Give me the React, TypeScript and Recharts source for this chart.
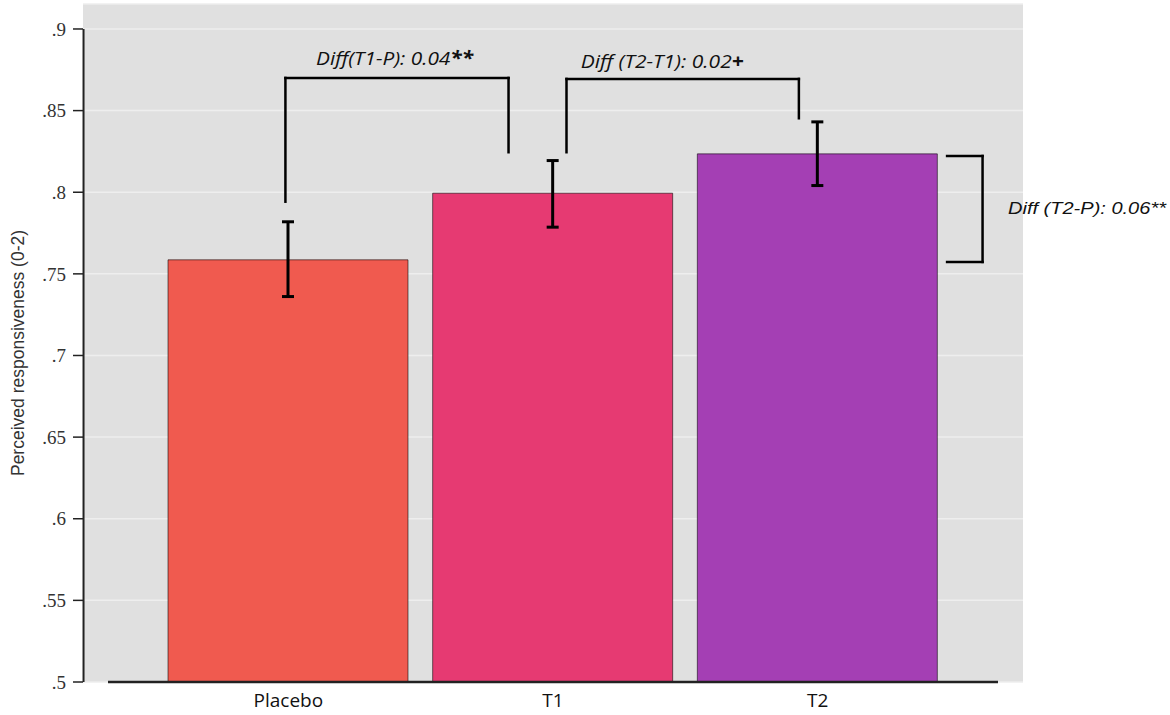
import React from 'react';
import {
    ComposedChart, Bar, Cell, ErrorBar, XAxis, YAxis, CartesianGrid,
    ReferenceLine, ReferenceDot,
} from 'recharts';

// values
const categories = ['Placebo', 'T1', 'T2'];
const means = [0.7586, 0.7994, 0.8235];
const ciLow = [0.7361, 0.7786, 0.8041];
const ciHigh = [0.7819, 0.8194, 0.8431];
const barColors = ['#F05A4F', '#E63A72', '#A43FB4'];
const yTicks = [0.5, 0.55, 0.6, 0.65, 0.7, 0.75, 0.8, 0.85, 0.9];

// brackets, in (position, value) units; categories sit at 1, 2, 3
const brackets = [
    [[0.989, 0.7942], [0.989, 0.87], [1.832, 0.87], [1.832, 0.8245]],
    [[2.051, 0.8245], [2.051, 0.8694], [2.929, 0.8694], [2.929, 0.8453]],
    [[3.489, 0.8222], [3.623, 0.8222], [3.623, 0.7573], [3.489, 0.7573]],
];

const notes = [
    { x: 1.1045, y: 0.878, text: 'Diff(T1-P): 0.04', mark: '**', bold: true },
    { x: 2.1047, y: 0.8764, text: 'Diff (T2-T1): 0.02', mark: '+', bold: true },
    { x: 3.7191, y: 0.7867, text: 'Diff (T2-P): 0.06', mark: '**', bold: false },
];
const noteFonts = [
    { fontFamily: 'Open Sans', fontSize: 19, len: 157 },
    { fontFamily: 'Open Sans', fontSize: 19, len: 163 },
    { fontFamily: 'Liberation Sans', fontSize: 17, len: 158 },
];

const data = categories.map((name, i) => ({
    name,
    pos: i + 1,
    value: means[i],
    err: [means[i] - ciLow[i], ciHigh[i] - means[i]],
}));

const PAD = 73;
const NUM_DOMAIN: [number, number] = [0.2242, 3.7758];

const fmtTick = (v: number) => String(Number(v.toFixed(2))).replace(/^0/, '');

const YLabel = (props: any) => {
    const vb = props.viewBox || {};
    const cy = vb.y + vb.height / 2 + 10;
    return (
        <text x={24} y={cy} transform={`rotate(-90, 24, ${cy})`} textAnchor="middle"
            fontFamily="Liberation Sans" fontSize={17.5} fill="#333">
            Perceived responsiveness (0-2)
        </text>
    );
};

export default function App() {
    return (
        <div style={{ width: 1170, height: 715 }}>
            <style>{'body{margin:0}'}</style>
            <ComposedChart width={1170} height={715} data={data}
                margin={{ top: 4, right: 147, bottom: 0, left: 0 }}>
                <CartesianGrid vertical={false} fill="#E0E0E0" stroke="#EEEEEE" strokeWidth={1.5} />
                <XAxis xAxisId="cat" dataKey="name" type="category" height={33}
                    padding={{ left: PAD, right: PAD }}
                    axisLine={false} tickLine={false} tickMargin={6}
                    tick={{ fill: '#111', fontSize: 19, fontFamily: 'Open Sans' }} />
                <XAxis xAxisId="n" dataKey="pos" type="number" domain={NUM_DOMAIN}
                    allowDataOverflow hide />
                <YAxis width={83} domain={[0.5, 0.9153]} ticks={yTicks} allowDataOverflow
                    tickFormatter={fmtTick} axisLine={false}
                    tickLine={{ stroke: '#222', strokeWidth: 1.5 }} tickSize={10} tickMargin={7}
                    tick={{ fill: '#333', fontSize: 19, fontFamily: 'Liberation Sans Narrow' }}
                    label={<YLabel />} />
                <Bar xAxisId="cat" dataKey="value" barSize={240} isAnimationActive={false}
                    stroke="rgba(0,0,0,0.55)" strokeWidth={1}>
                    {data.map((d, i) => (
                        <Cell key={d.name} fill={barColors[i]} />
                    ))}
                    <ErrorBar dataKey="err" direction="y" width={6} strokeWidth={3} stroke="#000"
                        isAnimationActive={false} />
                </Bar>
                {/* axis lines */}
                <ReferenceLine xAxisId="n" ifOverflow="visible" stroke="#222" strokeWidth={2.5}
                    segment={[{ x: 0.3187, y: 0.5 }, { x: 3.6813, y: 0.5 }]} />
                <ReferenceLine xAxisId="n" ifOverflow="visible" stroke="#222" strokeWidth={2}
                    segment={[{ x: 0.2262, y: 0.5 }, { x: 0.2262, y: 0.9 }]} />
                {brackets.flatMap((b, bi) =>
                    b.slice(1).map((p, si) => (
                        <ReferenceLine key={`b${bi}-${si}`} xAxisId="n" ifOverflow="visible"
                            stroke="#000" strokeWidth={2.5} strokeLinecap="square"
                            segment={[{ x: b[si][0], y: b[si][1] }, { x: p[0], y: p[1] }]} />
                    ))
                )}
                {notes.map((n, i) => (
                    <ReferenceDot key={`n${i}`} xAxisId="n" x={n.x} y={n.y} r={0} ifOverflow="visible"
                        shape={(p: any) => (
                            <text x={p.cx} y={p.cy} fontFamily={noteFonts[i].fontFamily}
                                fontSize={noteFonts[i].fontSize} fontStyle="italic" fill="#111"
                                textLength={noteFonts[i].len} lengthAdjust="spacingAndGlyphs">
                                {n.text}
                                <tspan fontWeight={n.bold ? 700 : 400}>{n.mark}</tspan>
                            </text>
                        )} />
                ))}
            </ComposedChart>
        </div>
    );
}
